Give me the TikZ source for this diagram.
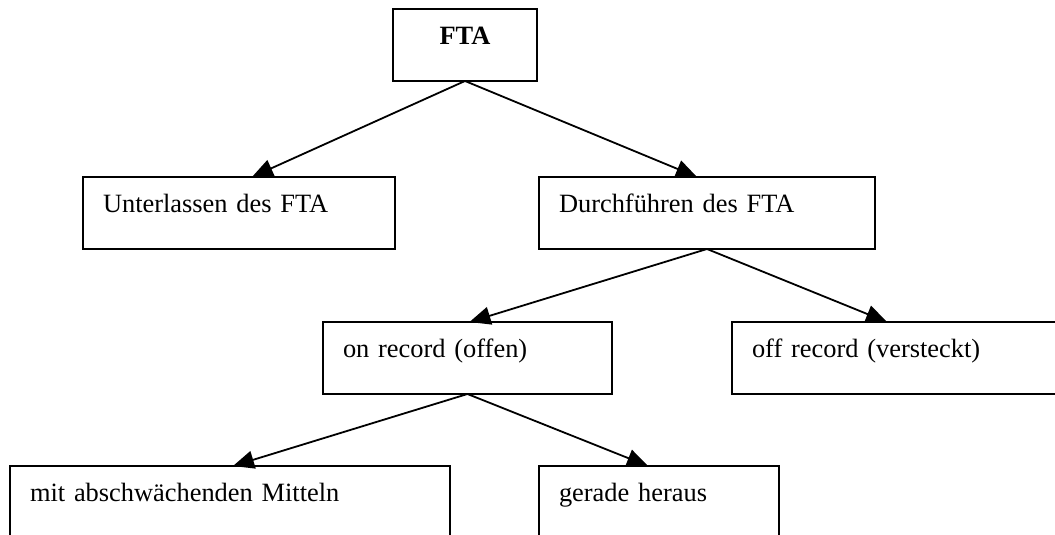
\documentclass[tikz,border=0pt]{standalone}
\usepackage{fontspec}
\setmainfont{Liberation Serif}
\usetikzlibrary{arrows.meta}

\begin{document}
\begin{tikzpicture}[x=0.5pt,y=0.5pt,
  every node/.style={draw, line width=1.1pt, anchor=north west, align=left, inner xsep=10pt, inner ysep=6pt, text height=12pt, text depth=12pt, outer sep=0pt, font=\fontsize{13.2pt}{15pt}\selectfont},
  link/.style={line width=0.9pt, -{Triangle[length=10.5pt,width=9pt]}}]
\useasboundingbox (0,0) rectangle (1055,535);
\node[text width=52pt, align=center] (fta) at (393,526) {\textbf{FTA}};

\node[text width=136pt] (unter) at (83,358) {Unterlassen des FTA};
\node[text width=148pt] (durch) at (539,358) {Durchführen des FTA};

\node[text width=124.5pt] (onrec) at (323,213) {on record (offen)};
\node[text width=150pt] (offrec) at (732,213) {off record (versteckt)};

\node[text width=200pt] (mit) at (10,69) {mit abschwächenden Mitteln};
\node[text width=100pt] (gerade) at (539,69) {gerade heraus};

\draw[link] (fta.south) -- ([xshift=6.5pt]unter.north);
\draw[link] (fta.south) -- ([xshift=-5pt]durch.north);
\draw[link] (durch.south) -- ([xshift=1pt]onrec.north);
\draw[link] (durch.south) -- ([xshift=-7.5pt]offrec.north);
\draw[link] (onrec.south) -- ([xshift=1.5pt]mit.north);
\draw[link] (onrec.south) -- ([xshift=-5.5pt]gerade.north);
\end{tikzpicture}
\end{document}
